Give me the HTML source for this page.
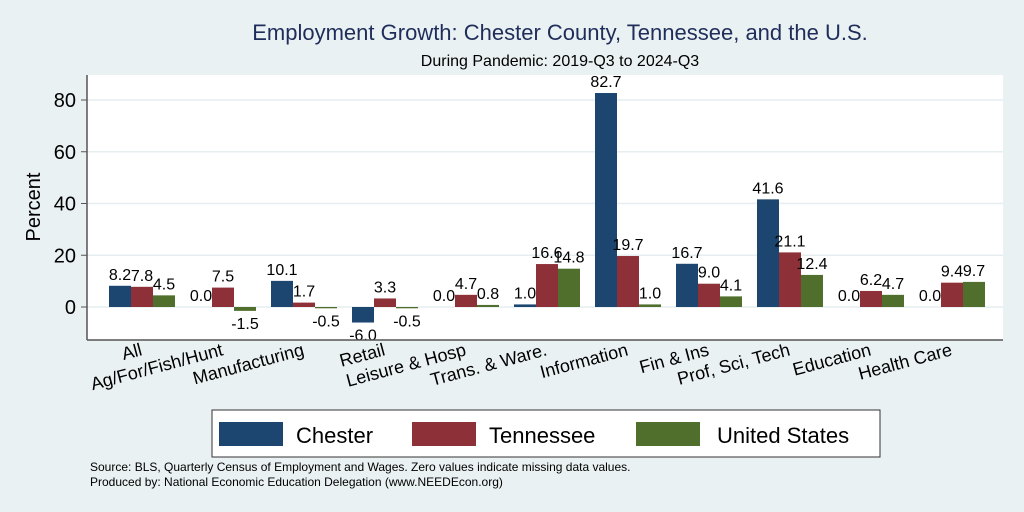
<!DOCTYPE html>
<html><head><meta charset="utf-8"><style>
body{margin:0;background:#eaf1f3;}
svg{display:block;font-family:"Liberation Sans",sans-serif;}
</style></head><body>
<svg id="c" width="1024" height="512">
<rect width="1024" height="512" fill="#eaf1f3"/>
<text x="560" y="40" text-anchor="middle" font-size="22" fill="#1f2d5a">Employment Growth: Chester County, Tennessee, and the U.S.</text>
<text x="560" y="66" text-anchor="middle" font-size="16" fill="#000">During Pandemic: 2019-Q3 to 2024-Q3</text>
<rect x="87" y="75" width="916" height="265" fill="#fff"/>
<g id="grid"></g><g id="bars"></g><g id="labels"></g>
<line x1="87" y1="75" x2="87" y2="340" stroke="#555" stroke-width="1.5"/>
<line x1="87" y1="340" x2="1003" y2="340" stroke="#555" stroke-width="1.5"/>
<text transform="translate(40,207) rotate(-90)" text-anchor="middle" font-size="20">Percent</text>
<rect x="212" y="410" width="668" height="47" fill="#fff" stroke="#333"/>
<g><rect x="219" y="422" width="64" height="24" fill="#1c4670"/><text x="296" y="443" font-size="22">Chester</text></g>
<g><rect x="412" y="422" width="64" height="24" fill="#8e3038"/><text x="489" y="443" font-size="22">Tennessee</text></g>
<g><rect x="636" y="422" width="64" height="24" fill="#506f2d"/><text x="717" y="443" font-size="22">United States</text></g>
<text x="90" y="471" font-size="12">Source: BLS, Quarterly Census of Employment and Wages. Zero values indicate missing data values.</text>
<text x="90" y="486" font-size="12">Produced by: National Economic Education Delegation (www.NEEDEcon.org)</text>
</svg>
<script>
const categories=["All","Ag/For/Fish/Hunt","Manufacturing","Retail","Leisure & Hosp","Trans. & Ware.","Information","Fin & Ins","Prof, Sci, Tech","Education","Health Care"];
const chester=[8.2,0.0,10.1,-6.0,0.0,1.0,82.7,16.7,41.6,0.0,0.0];
const tennessee=[7.8,7.5,1.7,3.3,4.7,16.6,19.7,9.0,21.1,6.2,9.4];
const unitedStates=[4.5,-1.5,-0.5,-0.5,0.8,14.8,1.0,4.1,12.4,4.7,9.7];
const yTicks=[0,20,40,60,80];
const NS="http://www.w3.org/2000/svg";
const y=v=>307-v*2.5875;
const gx=i=>109+81*i;
function mk(t,a,p){const e=document.createElementNS(NS,t);for(const k in a)e.setAttribute(k,a[k]);p.appendChild(e);return e;}
const grid=document.getElementById('grid'),bars=document.getElementById('bars'),labels=document.getElementById('labels');
yTicks.forEach(t=>{
  const l=mk('line',{x1:87,x2:1003,y1:y(t),y2:y(t),stroke:'#e6eef0','stroke-width':1.5},grid);
  
  
  const k=mk('line',{x1:81,x2:87,y1:y(t),y2:y(t),stroke:'#555'},grid);
  
  
  const tx=mk('text',{x:76,y:y(t)+7,'text-anchor':'end','font-size':20},grid);
  tx.textContent=t;
  
  
});
const series=[[chester,'#1c4670'],[tennessee,'#8e3038'],[unitedStates,'#506f2d']];
categories.forEach((c,i)=>{
  series.forEach(([arr,col],s)=>{
    const v=arr[i],x=gx(i)+22*s;
    const r=mk('rect',{x:x,y:Math.min(y(v),y(0)),width:22,height:Math.abs(y(v)-y(0)),fill:col},bars);
    
    
    const ty=v>=0?y(v)-6:y(v)+18;
    const t=mk('text',{x:x+11,y:ty,'text-anchor':'middle','font-size':16},bars);
    t.textContent=v.toFixed(1);
    
    
  });
  const cx=gx(i)+34,ly=355;
  const t=mk('text',{x:cx,y:ly,'text-anchor':'end','font-size':18,transform:`rotate(-15 ${cx} ${ly})`},labels);
  t.textContent=c;
  
  
});
</script>
</body></html>
